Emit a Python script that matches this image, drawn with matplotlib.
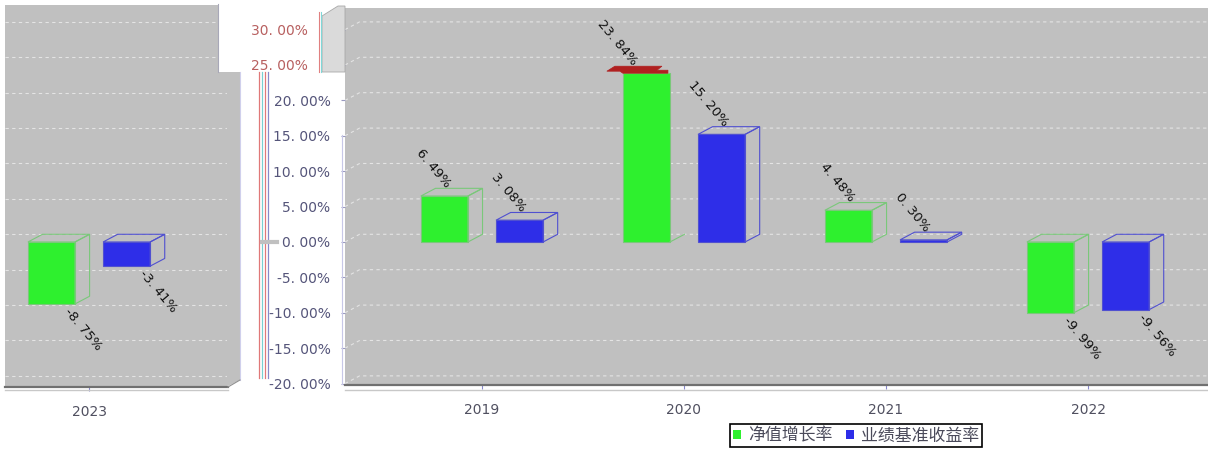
import matplotlib
matplotlib.use('Agg')
import matplotlib.pyplot as plt
from matplotlib.patches import Polygon, Rectangle
from matplotlib.lines import Line2D
from matplotlib.transforms import IdentityTransform

# ---------------- data ----------------
years = ['2019', '2020', '2021', '2022', '2023']
nav_growth = [6.49, 23.84, 4.48, -9.99, -8.75]
benchmark = [3.08, 15.20, 0.30, -9.56, -3.41]
nav_labels = ['6. 49%', '23. 84%', '4. 48%', '-9. 99%', '-8. 75%']
bench_labels = ['3. 08%', '15. 20%', '0. 30%', '-9. 56%', '-3. 41%']
yticks = [-20, -15, -10, -5, 0, 5, 10, 15, 20, 25, 30]
ytick_labels = ['-20. 00%', '-15. 00%', '-10. 00%', '-5. 00%', '0. 00%', '5. 00%',
                '10. 00%', '15. 00%', '20. 00%', '25. 00%', '30. 00%']
series_names = ['净值增长率', '业绩基准收益率']

# ---------------- style ----------------
plt.rcParams['font.family'] = ['DejaVu Sans', 'Noto Sans CJK SC']
GREEN = '#2ef02e'
BLUE = '#2e2ee8'
BG = '#c0c0c0'
GRID = '#e4e4e4'
W, H = 1208, 450
DX, DY = 14.6, 7.7      # 3D depth in pixels
BAR_W = 0.233
OFF = 0.186

fig = plt.figure(figsize=(W / 100, H / 100), dpi=100)


def fr(x0, y0, x1, y1):
    return [x0 / W, 1 - y1 / H, (x1 - x0) / W, (y1 - y0) / H]


ax_main = fig.add_axes(fr(345, 8, 1208, 385))
ax_left = fig.add_axes(fr(5, 5, 228, 387))

main_idx = [0, 1, 2, 3]
left_idx = [4]

for ax in (ax_main, ax_left):
    ax.set_facecolor(BG)
    for s in ('top', 'right', 'left'):
        ax.spines[s].set_visible(False)
    ax.spines['bottom'].set_color('#707070')
    ax.spines['bottom'].set_linewidth(1.6)

# y ticks (main only)
ax_main.set_yticks(yticks)
ax_main.set_yticklabels(ytick_labels)
ax_main.tick_params(axis='y', length=3, color='#9a9ac0', labelsize=10,
                    labelcolor='#55557a', pad=7.5)
for t, v in zip(ax_main.yaxis.get_major_ticks(), yticks):
    if v >= 25:
        t.set_pad(24)
        t.label1.set_color('#b86060')
ax_left.set_yticks([])

# x ticks
for ax, idx in ((ax_main, main_idx), (ax_left, left_idx)):
    ax.set_xticks(idx)
    ax.set_xticklabels([years[i] for i in idx])
    ax.tick_params(axis='x', length=3, color='#8888cc', labelsize=10,
                   labelcolor='#505060', pad=10)

ax_main.set_xlim(-0.678, 3.594)
ax_main.set_ylim(-20.2, 33.05)
ax_left.set_xlim(3.584, 4.688)
ax_left.set_ylim(-20.48, 33.47)

fig.canvas.draw()

# ---------------- grid on back wall ----------------
for ax, diag in ((ax_main, True), (ax_left, False)):
    x0d, x1d = ax.get_xlim()
    for v in yticks:
        xa, ya = ax.transData.transform((x0d, v))
        xb, _ = ax.transData.transform((x1d, v))
        if diag:
            xs = [xa, xa + DX, xb]
            ys = [ya, ya + DY, ya + DY]
        else:
            xs = [xa, xb]
            ys = [ya + DY, ya + DY]
        ax.add_line(Line2D(xs, ys, transform=IdentityTransform(), color=GRID,
                           lw=0.8, linestyle=(0, (3, 3)), zorder=1))


# ---------------- bars ----------------
def draw_bar(ax, x, v, color, edge, glitch=False):
    ax.bar(x, v, width=BAR_W, color=color, edgecolor=edge, linewidth=0.8, zorder=3)
    lo, hi = min(0, v), max(0, v)
    xl, yb = ax.transData.transform((x - BAR_W / 2, lo))
    xr, yt = ax.transData.transform((x + BAR_W / 2, hi))
    if glitch:
        # broken top face rendered in dark red, no side face
        pts = [(xl - 16, yt + 2), (xl - 8, yt + 7), (xr - 8, yt + 7), (xr - 13, yt + 3),
               (xr - 2, yt + 3), (xr - 2, yt), (xl, yt), (xl - 3, yt + 2)]
        ax.add_patch(Polygon(pts, closed=True, transform=IdentityTransform(),
                             facecolor='#b02020', edgecolor='#b02020', lw=0.5, zorder=4))
        ax.add_line(Line2D([xr, xr + DX], [yb, yb + DY], transform=IdentityTransform(),
                           color=edge, lw=0.8, zorder=4))
        return
    top = [(xl, yt), (xr, yt), (xr + DX, yt + DY), (xl + DX, yt + DY)]
    side = [(xr, yt), (xr + DX, yt + DY), (xr + DX, yb + DY), (xr, yb)]
    for pts in (top, side):
        ax.add_patch(Polygon(pts, closed=True, transform=IdentityTransform(),
                             fill=False, edgecolor=edge, lw=0.8, zorder=4))


def draw_label(ax, x, v, text, shift=0):
    if v >= 0:
        ax.annotate(text, xy=(x, v), xytext=((4 + shift) * 0.72, 10 * 0.72),
                    textcoords='offset points', rotation=-50, rotation_mode='anchor',
                    ha='right', va='center', fontsize=9.5, color='#111111', zorder=6)
    else:
        ax.annotate(text, xy=(x, v), xytext=(15 * 0.72, -6 * 0.72),
                    textcoords='offset points', rotation=-50, rotation_mode='anchor',
                    ha='left', va='center', fontsize=9.5, color='#111111', zorder=6)


for i, yr in enumerate(years):
    ax = ax_main if i in main_idx else ax_left
    glitch = (yr == '2020')
    draw_bar(ax, i - OFF, nav_growth[i], GREEN, '#7ac87a', glitch=glitch)
    draw_bar(ax, i + OFF, benchmark[i], BLUE, '#5050d0')
    draw_label(ax, i - OFF, nav_growth[i], nav_labels[i], shift=-16 if glitch else 0)
    draw_label(ax, i + OFF, benchmark[i], bench_labels[i])


# ---------------- decorations (panel walls / artefacts) ----------------
def fig_poly(pts, **kw):
    fig.add_artist(Polygon([(x / W, 1 - y / H) for x, y in pts], closed=True,
                           transform=fig.transFigure, **kw))


def fig_line(xs, ys, **kw):
    fig.add_artist(Line2D([x / W for x in xs], [1 - y / H for y in ys],
                          transform=fig.transFigure, **kw))


# left panel: notch and right wall
fig_poly([(218, 4), (229, 4), (229, 72), (218, 72)], facecolor='white', edgecolor='none', zorder=5)
fig_poly([(227, 72), (240, 72), (240, 380), (228, 386), (227, 386)], facecolor=BG,
         edgecolor='none', zorder=1)
fig_line([240, 240], [72, 380], color='#d0d0ec', lw=0.8)
fig_line([240, 228], [380, 387], color='#909090', lw=0.8)
fig_line([218, 218], [4, 72], color='#a8a8b8', lw=0.8, zorder=5)
# light line under both panels
fig_line([5, 228], [390, 390], color='#c8c8c8', lw=1.0)
fig_line([345, 1208], [390, 390], color='#c8c8c8', lw=1.0)
# main panel left wall
fig_poly([(322, 16), (338, 6), (345, 6), (345, 72), (322, 72)], facecolor='#dadada',
         edgecolor='#a8a8a8', lw=0.6, zorder=1)
fig_line([319, 319], [12, 72], color='#e08080', lw=0.8)
fig_line([321, 321], [12, 72], color='#80d8d8', lw=0.8)
fig_line([342, 342], [135, 384], color='#c8c8e8', lw=0.8)
# colored artefact lines
for x, c in ((259, '#e07878'), (262, '#78d0d0'), (265, '#e07878'), (268, '#8888c8')):
    fig_line([x, x], [72, 378], color=c, lw=0.9)
fig_line([262, 277], [242, 242], color='#c0c0c0', lw=3)

# ---------------- legend ----------------
handles = [Rectangle((0, 0), 1, 1, facecolor=GREEN, edgecolor='none'),
           Rectangle((0, 0), 1, 1, facecolor=BLUE, edgecolor='none')]
leg = fig.legend(handles, series_names, loc='center', bbox_to_anchor=(856 / W, 1 - 435.5 / H),
                 ncol=2, frameon=True, fancybox=False, framealpha=1, edgecolor='black',
                 fontsize=12.2, handlelength=0.5, handleheight=0.5, handletextpad=0.4,
                 columnspacing=0.8, borderpad=0.15, borderaxespad=0)
leg.get_frame().set_linewidth(1.2)
for t in leg.get_texts():
    t.set_color('#4a4a5a')
    t.set_fontfamily(['Noto Sans CJK SC', 'DejaVu Sans'])

fig.savefig('out.png', dpi=100)
